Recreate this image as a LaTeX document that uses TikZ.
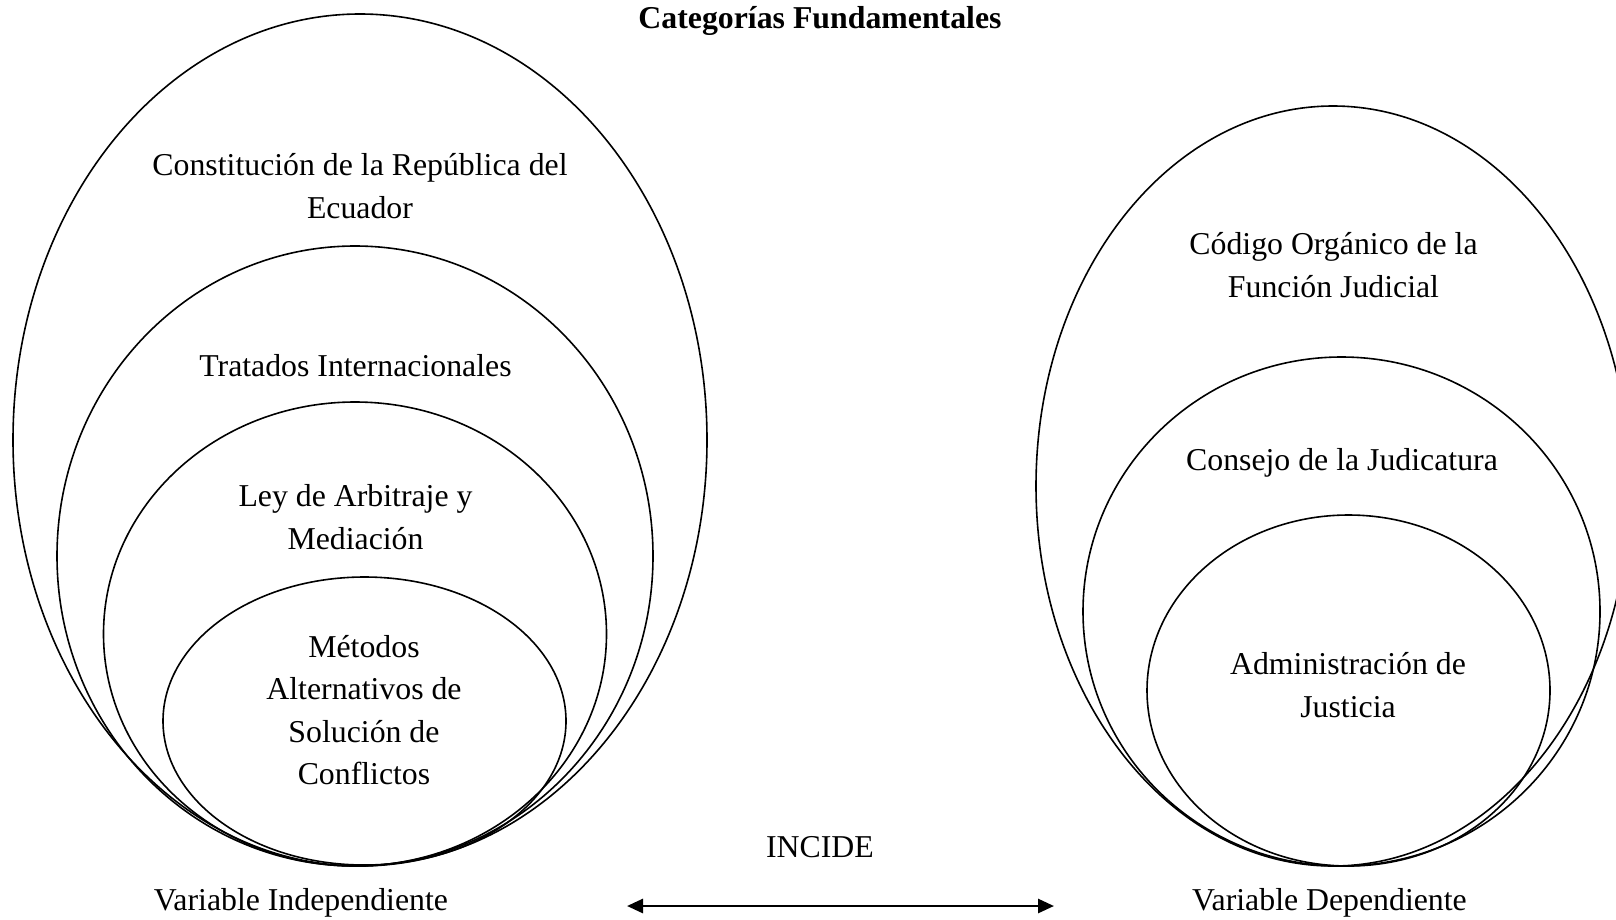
\documentclass[tikz,border=0pt]{standalone}
\usepackage{fontspec}
\setmainfont{Liberation Serif}
\usetikzlibrary{arrows.meta}
\begin{document}
\begin{tikzpicture}[x=1pt,y=-1pt,
  lbl/.style={font=\fontsize{31.8}{42.3}\selectfont, align=center, inner sep=0pt},
  ring/.style={line width=1.6pt},
  link/.style={line width=2.8pt, {Triangle[length=16pt,width=14pt]}-{Triangle[length=16pt,width=14pt]}}]
\useasboundingbox (0,0) rectangle (1616,919);
\clip (0,0) rectangle (1616,919);
% left rings
\draw[ring] (360,440) ellipse [x radius=347, y radius=426];
\draw[ring] (355,556) ellipse [x radius=298, y radius=310];
\draw[ring] (355,634) ellipse [x radius=251.5, y radius=232];
\draw[ring] (364.5,721) ellipse [x radius=201.5, y radius=144];
% right rings
\draw[ring] (1333,486) ellipse [x radius=297, y radius=380];
\draw[ring] (1341.5,611.5) ellipse [x radius=258.5, y radius=254.5];
\draw[ring] (1348.5,690.5) ellipse [x radius=201.5, y radius=175.5];
% texts
\node[lbl, font=\fontsize{31.8}{42.3}\selectfont\bfseries] (title) at (820,21) {Categorías Fundamentales};
\node[lbl] (t1) at (360,186) {Constitución de la República del\\Ecuador};
\node[lbl] (t2) at (355.5,366) {Tratados Internacionales};
\node[lbl] (t3) at (355.5,517) {Ley de Arbitraje y\\Mediación};
\node[lbl] (t4) at (364,710) {Métodos\\Alternativos de\\Solución de\\Conflictos};
\node[lbl] (r1) at (1333.5,265) {Código Orgánico de la\\Función Judicial};
\node[lbl] (r2) at (1342,463) {Consejo de la Judicatura};
\node[lbl] (r3) at (1348,685) {Administración de\\Justicia};
\node[lbl] (inc) at (820,847) {INCIDE};
\node[lbl] (vi) at (301,903) {Variable Independiente};
\node[lbl] (vd) at (1329.5,903) {Variable Dependiente};
\coordinate (aL) at (627,906);
\coordinate (aR) at (1054,906);
\draw[link] (aL) -- (aR);
\end{tikzpicture}
\end{document}
